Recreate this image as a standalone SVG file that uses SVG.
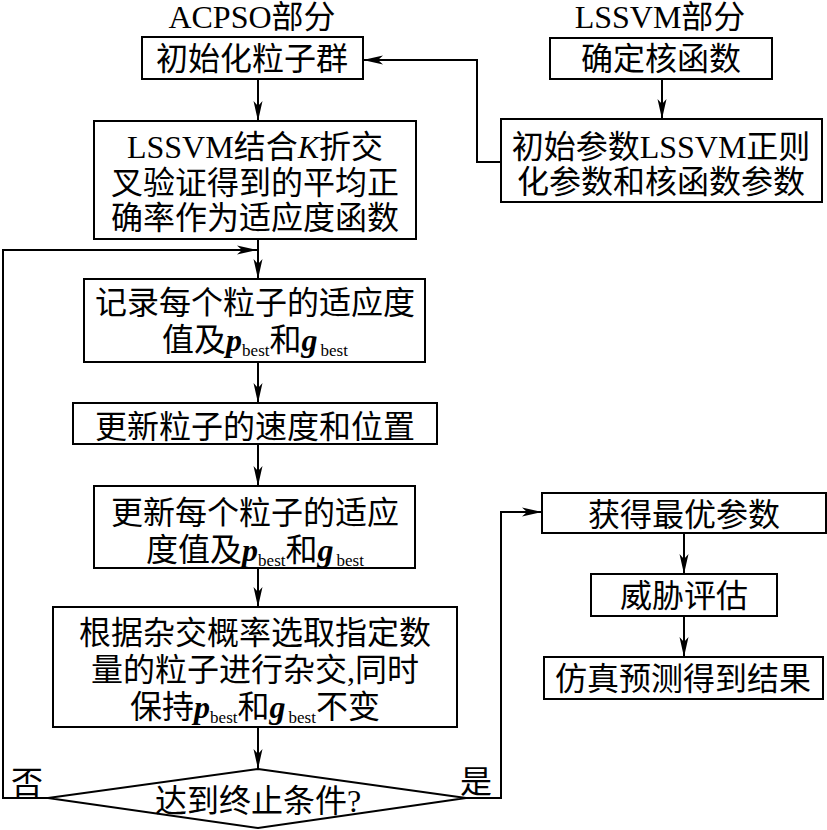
<svg xmlns="http://www.w3.org/2000/svg" width="827" height="830" viewBox="0 0 827 830">
<defs>
<style>
.b{fill:#fff;stroke:#000;stroke-width:2}
.t{font-family:"Liberation Serif","Noto Sans CJK SC",serif;font-size:32px;fill:#000;text-anchor:middle}
.h{font-size:32px}
.c{fill:none;stroke:#000;stroke-width:2}
.v{font-weight:bold;font-style:italic}
.s{font-size:17px}
</style>
<marker id="a" viewBox="0 0 20 10" refX="20" refY="5" markerWidth="20" markerHeight="10" markerUnits="userSpaceOnUse" orient="auto">
<path d="M0,0.5 L20,5 L0,9.5 L5,5 Z" fill="#000"/>
</marker>
</defs>
<rect width="827" height="830" fill="#fff"/>
<text class="t h" x="252" y="28">ACPSO部分</text>
<text class="t h" x="660" y="28">LSSVM部分</text>
<g id="connectors">
<line class="c" x1="258" y1="79" x2="258" y2="121" marker-end="url(#a)"/>
<line class="c" x1="258" y1="239" x2="258" y2="279" marker-end="url(#a)"/>
<line class="c" x1="258" y1="362" x2="258" y2="403" marker-end="url(#a)"/>
<line class="c" x1="258" y1="444" x2="258" y2="486" marker-end="url(#a)"/>
<line class="c" x1="258" y1="568" x2="258" y2="607" marker-end="url(#a)"/>
<line class="c" x1="258" y1="727" x2="258" y2="769" marker-end="url(#a)"/>
<line class="c" x1="662" y1="79" x2="662" y2="119" marker-end="url(#a)"/>
<polyline class="c" points="501,162 477,162 477,60 363,60" marker-end="url(#a)"/>
<polyline class="c" points="48,798 3,798 3,250 257,250" marker-end="url(#a)"/>
<polyline class="c" points="466,798 501,798 501,512 542,512" marker-end="url(#a)"/>
<line class="c" x1="684" y1="533" x2="684" y2="574" marker-end="url(#a)"/>
<line class="c" x1="684" y1="616" x2="684" y2="657" marker-end="url(#a)"/>
</g>
<g id="n1"><rect class="b" x="142" y="37" width="221" height="42"/><text class="t" x="252" y="70">初始化粒子群</text></g>
<g id="n2"><rect class="b" x="94" y="121" width="322" height="118"/>
<text class="t" x="255" y="158">LSSVM结合<tspan font-style="italic">K</tspan>折交</text>
<text class="t" x="255" y="194">叉验证得到的平均正</text>
<text class="t" x="255" y="229">确率作为适应度函数</text></g>
<g id="n3"><rect class="b" x="550" y="38" width="222" height="41"/><text class="t" x="661" y="70">确定核函数</text></g>
<g id="n4"><rect class="b" x="501" y="119" width="321" height="83"/>
<text class="t" x="661" y="158">初始参数LSSVM正则</text>
<text class="t" x="661" y="193">化参数和核函数参数</text></g>
<g id="n5"><rect class="b" x="84" y="279" width="341" height="83"/>
<text class="t" x="255" y="314">记录每个粒子的适应度</text>
<text class="t" x="255" y="351">值及<tspan class="v">p</tspan><tspan class="s" dy="5">best</tspan><tspan dy="-5">和</tspan><tspan class="v">g</tspan><tspan class="s" dy="5" dx="3">best</tspan></text></g>
<g id="n6"><rect class="b" x="73" y="403" width="364" height="41"/><text class="t" x="255" y="438">更新粒子的速度和位置</text></g>
<g id="n7"><rect class="b" x="94" y="486" width="321" height="82"/>
<text class="t" x="255" y="524">更新每个粒子的适应</text>
<text class="t" x="255" y="561">度值及<tspan class="v">p</tspan><tspan class="s" dy="5">best</tspan><tspan dy="-5">和</tspan><tspan class="v">g</tspan><tspan class="s" dy="5" dx="3">best</tspan></text></g>
<g id="n8"><rect class="b" x="53" y="607" width="404" height="120"/>
<text class="t" x="255" y="644">根据杂交概率选取指定数</text>
<text class="t" x="255" y="681">量的粒子进行杂交,同时</text>
<text class="t" x="255" y="718">保持<tspan class="v">p</tspan><tspan class="s" dy="5">best</tspan><tspan dy="-5">和</tspan><tspan class="v">g</tspan><tspan class="s" dy="5" dx="3">best</tspan><tspan dy="-5">不变</tspan></text></g>
<g id="n9"><polygon class="b" points="258,769 466,798 258,828 48,798"/><text class="t" x="258" y="812">达到终止条件?</text></g>
<text class="t" x="27" y="794">否</text>
<text class="t" x="476" y="793">是</text>
<g id="n10"><rect class="b" x="542" y="493" width="284" height="40"/><text class="t" x="684" y="526">获得最优参数</text></g>
<g id="n11"><rect class="b" x="591" y="574" width="186" height="42"/><text class="t" x="684" y="607">威胁评估</text></g>
<g id="n12"><rect class="b" x="544" y="657" width="279" height="42"/><text class="t" x="683" y="690">仿真预测得到结果</text></g>
</svg>
